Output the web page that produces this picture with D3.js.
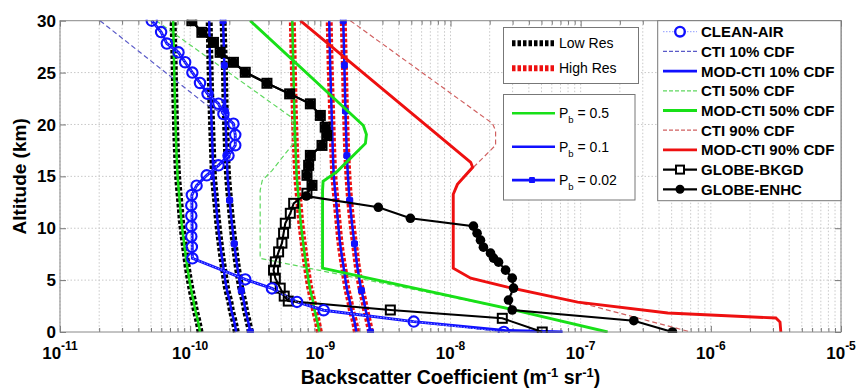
<!DOCTYPE html>
<html><head><meta charset="utf-8">
<script src="https://cdn.jsdelivr.net/npm/d3@7"></script>
<style>body{margin:0;background:#fff}svg{display:block}text{font-family:"Liberation Sans",Arial,Helvetica,sans-serif}</style>
</head><body><svg id="c" width="857" height="389"></svg>
<script>
// ---------- DATA ----------
const xTickExps = [-11,-10,-9,-8,-7,-6,-5];
const yTicks = [0,5,10,15,20,25,30];

// background (molecular-like) profiles
const altMol = [0,1,2,3,4,6,8.5,10.5,12.7,15,17,21.3,25.7,30];
const markAlt002 = [0,4,8.5,12.7,17,21.3,25.7,30];
const lowRes05  = [1.19e-10,1.15e-10,1.10e-10,1.06e-10,1.02e-10,9.57e-11,8.99e-11,8.60e-11,8.30e-11,8.01e-11,7.87e-11,7.67e-11,7.53e-11,7.40e-11];
const lowRes01  = [2.26e-10,2.18e-10,2.08e-10,2.01e-10,1.92e-10,1.81e-10,1.70e-10,1.63e-10,1.57e-10,1.51e-10,1.49e-10,1.45e-10,1.42e-10,1.40e-10];
const lowRes002 = [2.90e-10,2.79e-10,2.67e-10,2.58e-10,2.47e-10,2.32e-10,2.18e-10,2.09e-10,2.01e-10,1.94e-10,1.91e-10,1.86e-10,1.83e-10,1.79e-10];
const highRes05 = [9.83e-10,9.48e-10,9.07e-10,8.76e-10,8.38e-10,7.88e-10,7.40e-10,7.08e-10,6.83e-10,6.59e-10,6.48e-10,6.31e-10,6.20e-10,6.09e-10];
const highRes01 = [1.89e-9,1.83e-9,1.74e-9,1.68e-9,1.61e-9,1.52e-9,1.42e-9,1.37e-9,1.32e-9,1.27e-9,1.25e-9,1.22e-9,1.19e-9,1.17e-9];
const highRes002= [2.43e-9,2.34e-9,2.24e-9,2.16e-9,2.07e-9,1.94e-9,1.83e-9,1.75e-9,1.68e-9,1.63e-9,1.60e-9,1.56e-9,1.53e-9,1.50e-9];

// CLEAN-AIR
const cleanAlt = [30,28.9,27.8,26.95,26,25,24,22.95,22,21,20.07,19,18,17,16.06,15.1,14.1,13.2,12.2,11.2,10.2,9.2,8.2,7.1,5.07,4.2,2.9,2.1,1.0,0];
const cleanVal = [5.07e-11,5.98e-11,6.62e-11,8.13e-11,9.15e-11,1.04e-10,1.19e-10,1.36e-10,1.65e-10,1.80e-10,2.15e-10,2.22e-10,2.22e-10,1.97e-10,1.65e-10,1.34e-10,1.12e-10,1.03e-10,1.02e-10,1.02e-10,1.02e-10,1.02e-10,1.03e-10,1.04e-10,2.65e-10,4.25e-10,6.62e-10,1.06e-9,5.22e-9,2.57e-8];

// CTI / MOD-CTI
const cti10Alt = [30,22,21,20.07,19,18,17,16.06,15.1,14.1,13.2,7.1,5.07,4.2,2.9,2.1,1.0,0];
const cti10Val = [2.03e-11,1.30e-10,1.80e-10,2.15e-10,2.22e-10,2.22e-10,1.97e-10,1.65e-10,1.34e-10,1.12e-10,1.03e-10,1.04e-10,2.65e-10,4.25e-10,6.62e-10,1.06e-9,5.22e-9,2.57e-8];
const mod10Alt = [30,28.9,27.8,26.95,26,25,24,22.95,22,21,20.07,19,18,17,16.06,15.1,14.1,13.2,7.1,5.07,4.2,2.9,2.1,1.0,0.15,0];
const mod10Val = [5.07e-11,5.98e-11,6.62e-11,8.13e-11,9.15e-11,1.04e-10,1.19e-10,1.36e-10,1.65e-10,1.80e-10,2.15e-10,2.22e-10,2.22e-10,1.97e-10,1.65e-10,1.34e-10,1.12e-10,1.03e-10,1.04e-10,2.65e-10,4.25e-10,6.62e-10,1.06e-9,5.22e-9,2.6e-8,7.27e-8];
const cti50Alt = [30,20.77,19.9,18.17,15.58,14.6,13.65,7.1,5.96,2.21,0];
const cti50Val = [5.48e-11,5.88e-10,6.2e-10,6.2e-10,4.27e-10,3.58e-10,3.45e-10,3.45e-10,9.66e-10,2.89e-8,1.61e-7];
const mod50Alt = [30,19.9,19.04,18.17,15.48,14.52,13.65,6.15,2.21,0];
const mod50Val = [2.89e-10,2.14e-9,2.26e-9,2.22e-9,1.35e-9,1.05e-9,1.04e-9,1.04e-9,2.89e-8,1.61e-7];
const cti90Alt = [30,20.1,19.4,18.0,15.87,14.23,13.27,6.15,5.19,4.33,2.88,0];
const cti90Val = [1.70e-9,2.10e-8,2.22e-8,2.22e-8,1.50e-8,1.13e-8,1.05e-8,1.05e-8,1.43e-8,2.74e-8,9.48e-8,7.02e-7];
const mod90Alt = [30,16.35,15.87,14.23,13.27,6.15,5.19,4.33,2.88,1.83,1.35,0.96,0];
const mod90Val = [7.02e-10,1.43e-8,1.48e-8,1.13e-8,1.05e-8,1.05e-8,1.43e-8,2.74e-8,9.48e-8,4.67e-7,3.16e-6,3.40e-6,3.45e-6];

// GLOBE
const bkgdAlt = [30,28.88,27.91,26.95,25.99,25.03,23.97,22.95,21.99,20.87,19.74,18.94,17.98,17.02,16.06,15.1,14.13,13.37,12.4,11.44,10.48,9.52,8.56,7.72,6.76,5.96,5.19,4.23,3.46,2.98,2.12,1.32,0];
const bkgdVal = [1.03e-10,1.23e-10,1.51e-10,1.70e-10,2.15e-10,2.65e-10,3.89e-10,5.81e-10,8.38e-10,1.00e-9,1.09e-9,1.12e-9,1.03e-9,8.38e-10,8.13e-10,7.90e-10,8.63e-10,7.89e-10,6.24e-10,5.88e-10,5.38e-10,5.22e-10,5.07e-10,4.78e-10,4.51e-10,4.37e-10,4.51e-10,4.92e-10,5.28e-10,5.67e-10,3.45e-9,2.50e-8,5.07e-8];
const enhcAlt = [30,28.88,27.91,26.95,25.99,25.03,23.97,22.95,21.99,20.87,19.74,18.94,17.98,17.02,16.06,15.1,14.13,13.1,12.02,10.96,10.2,9.52,8.85,8.17,7.6,7.12,6.73,5.96,5.19,4.23,3.08,2.12,1.09,0];
const enhcVal = [1.03e-10,1.23e-10,1.51e-10,1.70e-10,2.15e-10,2.65e-10,3.89e-10,5.81e-10,8.38e-10,1.00e-9,1.09e-9,1.12e-9,1.03e-9,8.38e-10,8.13e-10,7.90e-10,8.63e-10,7.80e-10,2.79e-9,4.92e-9,1.50e-8,1.60e-8,1.70e-8,1.79e-8,2.03e-8,2.14e-8,2.34e-8,2.65e-8,2.98e-8,3.05e-8,2.79e-8,2.98e-8,2.56e-7,5.07e-7];

const legendRight = ["CLEAN-AIR","CTI 10% CDF","MOD-CTI 10% CDF","CTI 50% CDF","MOD-CTI 50% CDF","CTI 90% CDF","MOD-CTI 90% CDF","GLOBE-BKGD","GLOBE-ENHC"];
const legendRes = ["Low Res","High Res"];
const legendPb = ["0.5","0.1","0.02"];

// ---------- CHART ----------
const BLUE="#1010ff", GREEN="#18e018", RED="#ee1010", BLACK="#000";
const L=60, T=20.7, R=841, B=332;
const svg=d3.select('#c');
const x=d3.scaleLog().domain([1e-11,1e-5]).range([L,R]);
const y=d3.scaleLinear().domain([0,30]).range([B,T]);
const zip=(a,v)=>a.map((h,i)=>[h,v[i]]);
const line=d3.line().x(d=>x(d[1])).y(d=>y(d[0]));
const smooth=d3.line().x(d=>x(d[1])).y(d=>y(d[0])).curve(d3.curveMonotoneY);

svg.append('rect').attr('x',0).attr('y',0).attr('width',857).attr('height',389).attr('fill','#fff');
// grid
const grid=svg.append('g');
grid.selectAll('line.v').data(x.ticks()).join('line')
  .attr('x1',d=>x(d)).attr('x2',d=>x(d)).attr('y1',T).attr('y2',B)
  .attr('stroke','#c8c8c8').attr('stroke-width',1).attr('stroke-dasharray','1.5,2');
grid.selectAll('line.h').data([5,10,15,20,25]).join('line')
  .attr('x1',L).attr('x2',R).attr('y1',d=>y(d)).attr('y2',d=>y(d))
  .attr('stroke','#c8c8c8').attr('stroke-width',1).attr('stroke-dasharray','1.5,2');

// ticks (inside) on all sides
const majors=xTickExps.map(e=>Math.pow(10,e));
const minorT=x.ticks().filter(v=>!majors.some(m=>Math.abs(m/v-1)<1e-6));
function tickAxis(gen,vals,size,tr){
  const g=svg.append('g').attr('transform',tr).call(gen.tickValues(vals).tickSize(size).tickFormat(''));
  g.select('.domain').remove();
  g.selectAll('line').attr('stroke','#777');
}
tickAxis(d3.axisBottom(x),majors,-6,`translate(0,${B})`);
tickAxis(d3.axisBottom(x),minorT,-4,`translate(0,${B})`);
tickAxis(d3.axisTop(x),majors,-6,`translate(0,${T})`);
tickAxis(d3.axisTop(x),minorT,-4,`translate(0,${T})`);
tickAxis(d3.axisLeft(y),yTicks,-6,`translate(${L},0)`);
tickAxis(d3.axisRight(y),yTicks,-6,`translate(${R},0)`);

svg.append('clipPath').attr('id','pc').append('rect').attr('x',L).attr('y',T-1).attr('width',R-L).attr('height',B-T+2);
const P=svg.append('g').attr('clip-path','url(#pc)');

// background profiles
const mol=[
  {v:lowRes05, base:BLACK, c:GREEN, m:false},
  {v:lowRes01, base:BLACK, c:BLUE, m:false},
  {v:lowRes002,base:BLACK, c:BLUE, m:true},
  {v:highRes05, base:RED, c:GREEN, m:false},
  {v:highRes01, base:RED, c:BLUE, m:false},
  {v:highRes002,base:RED, c:BLUE, m:true}
];
mol.forEach(s=>{
  P.append('path').attr('d',smooth(zip(altMol,s.v))).attr('fill','none')
    .attr('stroke',s.base).attr('stroke-width',7).attr('stroke-dasharray','3.5,2');
});
// CTI dashed lines
[[cti10Alt,cti10Val,'#5a5ac8'],[cti50Alt,cti50Val,'#5fd85f'],[cti90Alt,cti90Val,'#d06060']].forEach(([a,v,c])=>{
  P.append('path').attr('d',line(zip(a,v))).attr('fill','none').attr('stroke',c).attr('stroke-width',1.2).attr('stroke-dasharray','5,3');
});
mol.forEach(s=>{
  const pts=zip(altMol,s.v);
  P.append('path').attr('d',smooth(pts)).attr('fill','none').attr('stroke',s.c).attr('stroke-width',2.5);
  if(s.m){
    P.selectAll(null).data(pts.filter(d=>markAlt002.includes(d[0]))).join('rect')
      .attr('x',d=>x(d[1])-3).attr('y',d=>y(d[0])-3).attr('width',6).attr('height',6)
      .attr('rx',1.2).attr('fill',s.c).attr('stroke',s.c);
  }
});
// MOD-CTI solid lines
[[mod10Alt,mod10Val,BLUE],[mod50Alt,mod50Val,GREEN],[mod90Alt,mod90Val,RED]].forEach(([a,v,c])=>{
  P.append('path').attr('d',line(zip(a,v))).attr('fill','none').attr('stroke',c).attr('stroke-width',2.9);
});
// GLOBE
const bk=zip(bkgdAlt,bkgdVal), en=zip(enhcAlt,enhcVal);
P.append('path').attr('d',line(bk)).attr('fill','none').attr('stroke',BLACK).attr('stroke-width',2.1);
P.append('path').attr('d',line(en)).attr('fill','none').attr('stroke',BLACK).attr('stroke-width',2.1);
P.selectAll(null).data(bk).join('rect').attr('x',d=>x(d[1])-4.5).attr('y',d=>y(d[0])-4.5).attr('width',9).attr('height',9)
  .attr('fill','none').attr('stroke',BLACK).attr('stroke-width',2);
P.selectAll(null).data(en).join('circle').attr('cx',d=>x(d[1])).attr('cy',d=>y(d[0])).attr('r',4.8).attr('fill',BLACK);
// CLEAN-AIR
const ca=zip(cleanAlt,cleanVal);
P.append('path').attr('d',line(ca)).attr('fill','none').attr('stroke','#8f9cff').attr('stroke-width',1).attr('stroke-dasharray','1.5,1.5');
P.selectAll(null).data(ca).join('circle').attr('cx',d=>x(d[1])).attr('cy',d=>y(d[0])).attr('r',5.2)
  .attr('fill','none').attr('stroke',BLUE).attr('stroke-width',2.1);

// axes box
svg.append('rect').attr('x',L).attr('y',T).attr('width',R-L).attr('height',B-T).attr('fill','none').attr('stroke','#888').attr('stroke-width',1);

// y tick labels
svg.selectAll(null).data(yTicks).join('text').attr('x',L-4).attr('y',d=>y(d)).attr('dy','0.36em')
  .attr('text-anchor','end').attr('font-size',17).attr('font-weight','bold').text(d=>d);
// x tick labels
svg.selectAll(null).data(xTickExps).join('text').attr('x',d=>x(Math.pow(10,d))).attr('y',359)
  .attr('text-anchor','middle').attr('font-size',17).attr('font-weight','bold')
  .each(function(e){const t=d3.select(this);t.append('tspan').text('10');t.append('tspan').attr('dy',-9).attr('font-size',12).text(e);});
// axis titles
const xt=svg.append('text').attr('x',(L+R)/2).attr('y',384).attr('text-anchor','middle').attr('font-size',19.5).attr('font-weight','bold');
xt.append('tspan').text('Backscatter Coefficient (m');
xt.append('tspan').attr('dy',-7).attr('font-size',13).text('-1');
xt.append('tspan').attr('dy',7).text(' sr');
xt.append('tspan').attr('dy',-7).attr('font-size',13).text('-1');
xt.append('tspan').attr('dy',7).text(')');
svg.append('text').attr('transform',`translate(26,${(T+B)/2}) rotate(-90)`).attr('text-anchor','middle')
  .attr('font-size',19).attr('font-weight','bold').text('Altitude (km)');

// legend 1
const g1=svg.append('g');
g1.append('rect').attr('x',503.5).attr('y',27.5).attr('width',135).attr('height',56).attr('fill','#fff').attr('stroke','#777');
legendRes.forEach((lab,i)=>{
  const yy=43.3+i*25;
  g1.append('line').attr('x1',512).attr('x2',555).attr('y1',yy).attr('y2',yy).attr('stroke',i?RED:BLACK).attr('stroke-width',6).attr('stroke-dasharray','3.5,2');
  g1.append('text').attr('x',559).attr('y',yy).attr('dy','0.36em').attr('font-size',14).text(lab);
});
// legend 2
const g2=svg.append('g');
g2.append('rect').attr('x',503.5).attr('y',94.5).attr('width',131.5).attr('height',105.5).attr('fill','#fff').attr('stroke','#777');
legendPb.forEach((lab,i)=>{
  const yy=113.3+i*33.4, c=i?BLUE:GREEN;
  g2.append('line').attr('x1',512).attr('x2',555).attr('y1',yy).attr('y2',yy).attr('stroke',c).attr('stroke-width',2.6);
  if(i===2) g2.append('rect').attr('x',529).attr('y',yy-3).attr('width',6).attr('height',6).attr('rx',1.2).attr('fill',BLUE);
  const t=g2.append('text').attr('x',559).attr('y',yy).attr('dy','0.36em').attr('font-size',14);
  t.append('tspan').text('P');
  t.append('tspan').attr('dy',5).attr('font-size',9.5).text('b');
  t.append('tspan').attr('dy',-5).text(' = '+lab);
});
// legend 3
const g3=svg.append('g');
g3.append('rect').attr('x',657.7).attr('y',T).attr('width',R-657.7).attr('height',180).attr('fill','#fff').attr('stroke','#777');
const st=[
  {c:'#8f9cff',w:1,d:'1.5,1.5',mk:'oc'},
  {c:'#5a5ac8',w:1.2,d:'4,2'},
  {c:BLUE,w:2.9},
  {c:'#5fd85f',w:1.2,d:'4,2'},
  {c:GREEN,w:2.9},
  {c:'#d06060',w:1.2,d:'4,2'},
  {c:RED,w:2.9},
  {c:BLACK,w:2.2,mk:'sq'},
  {c:BLACK,w:2.2,mk:'fc'}
];
legendRight.forEach((lab,i)=>{
  const yy=31.7+i*19.7, s=st[i];
  const ln=g3.append('line').attr('x1',663).attr('x2',697).attr('y1',yy).attr('y2',yy).attr('stroke',s.c).attr('stroke-width',s.w);
  if(s.d) ln.attr('stroke-dasharray',s.d);
  if(s.mk==='oc') g3.append('circle').attr('cx',680).attr('cy',yy).attr('r',4.8).attr('fill','#fff').attr('stroke',BLUE).attr('stroke-width',2.4);
  if(s.mk==='sq') g3.append('rect').attr('x',676).attr('y',yy-4).attr('width',8).attr('height',8).attr('fill','#fff').attr('stroke',BLACK).attr('stroke-width',2);
  if(s.mk==='fc') g3.append('circle').attr('cx',680).attr('cy',yy).attr('r',4.5).attr('fill',BLACK);
  g3.append('text').attr('x',701).attr('y',yy).attr('dy','0.36em').attr('font-size',15).attr('font-weight','bold').text(lab);
});
</script></body></html>
